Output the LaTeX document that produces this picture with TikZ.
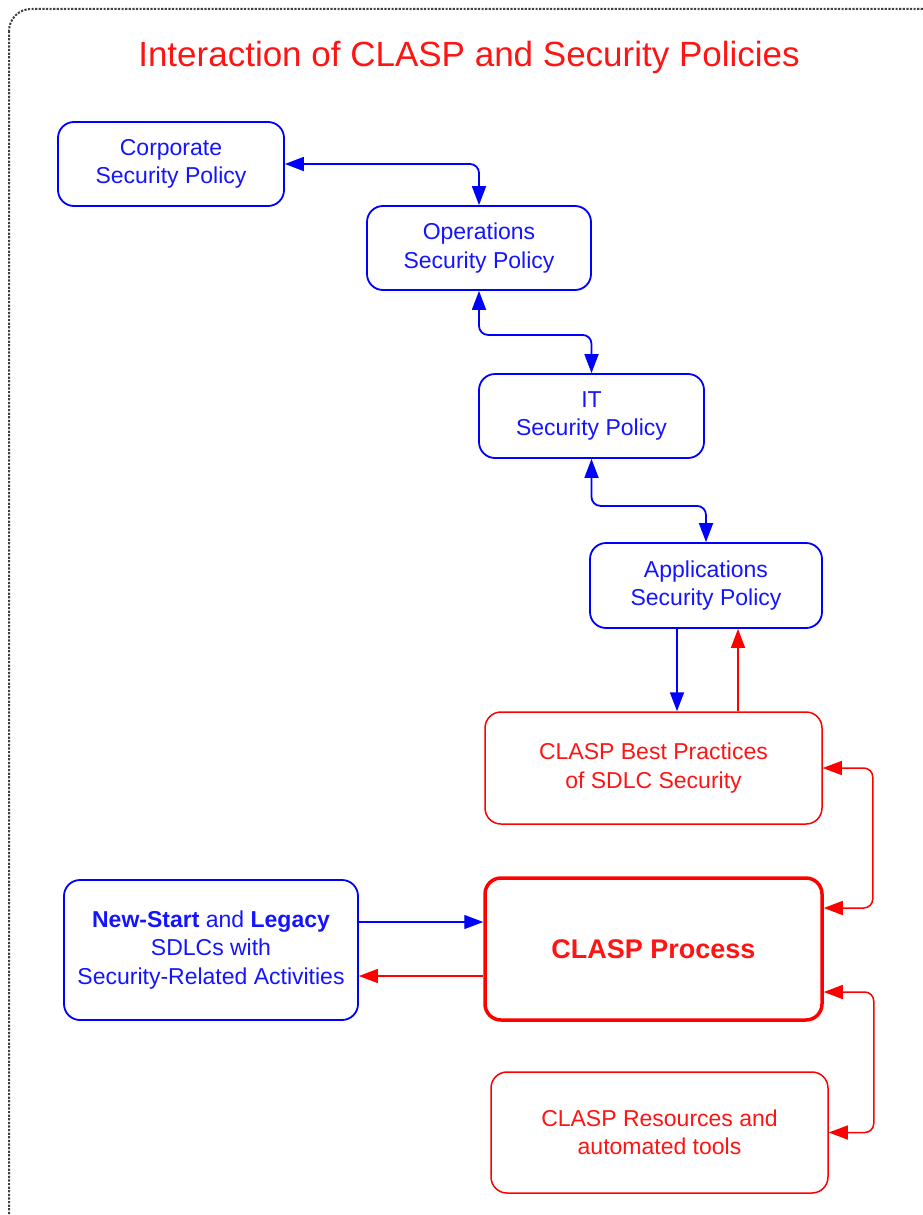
\documentclass[tikz,border=0pt]{standalone}
\usepackage{fontspec}
\setmainfont{Liberation Sans}
\usetikzlibrary{arrows.meta}
\definecolor{tblue}{RGB}{20,20,255}
\definecolor{tred}{RGB}{255,20,20}
\tikzset{
  ptip/.tip={Triangle[length=19pt,width=14pt]},
  bbox/.style={draw=blue, text=tblue, line width=1.8pt, rounded corners=16pt, align=center,
    inner sep=0pt, font=\fontsize{23}{28.5}\selectfont},
  rbox/.style={draw=red, text=tred, line width=1.5pt, rounded corners=16pt, align=center,
    inner sep=0pt, font=\fontsize{23}{28.5}\selectfont},
  bconn/.style={draw=blue, line width=1.8pt, rounded corners=9pt},
  rconn/.style={draw=red, line width=1.5pt, rounded corners=9pt},
}
\begin{document}
\begin{tikzpicture}[x=1pt,y=-1pt]
\useasboundingbox (0,0) rectangle (923,1215);
\clip (0,0) rectangle (923,1215);
\draw[draw=black!75, line width=2pt, dash pattern=on 2.2pt off 1.4pt, rounded corners=22pt]
  (9,9) rectangle (945,1240);
\node[text=tred, font=\fontsize{35}{40}\selectfont] (title) at (469,57) {Interaction of CLASP and Security Policies};

\node[bbox, minimum width=226pt, minimum height=84pt] (corp) at (171,164) {Corporate\\Security Policy};
\node[bbox, minimum width=224pt, minimum height=84pt] (ops) at (479,248) {Operations\\Security Policy};
\node[bbox, minimum width=225pt, minimum height=84pt] (it) at (591.5,416) {IT\\Security Policy};
\node[bbox, minimum width=232pt, minimum height=85pt] (app) at (706,585.5) {Applications\\Security Policy};
\node[rbox, minimum width=337pt, minimum height=112pt] (bp) at (653.5,768) {CLASP Best Practices\\of SDLC Security};
\node[rbox, line width=3.5pt, minimum width=337pt, minimum height=142pt, font=\fontsize{27}{32}\selectfont\bfseries] (proc) at (653.5,949) {CLASP Process};
\node[bbox, minimum width=294pt, minimum height=140pt] (new) at (211,950) {\textbf{New-Start} and \textbf{Legacy}\\SDLCs with\\Security-Related Activities};
\node[rbox, minimum width=337pt, minimum height=121pt] (res) at (659.5,1132.5) {CLASP Resources and\\automated tools};

% blue policy chain
\draw[bconn, {ptip}-{ptip}] (corp.east) -| (ops.north);
\draw[bconn, {ptip}-{ptip}] (ops.south) -- ++(0,44) -| (it.north);
\draw[bconn, {ptip}-{ptip}] (it.south) -- ++(0,47) -| (app.north);

% applications <-> best practices
\draw[bconn, -{ptip}] ([xshift=-29pt]app.south) -- ([xshift=23.5pt]bp.north);
\draw[rconn, -{ptip}] ([xshift=84.5pt]bp.north) -- ([xshift=32pt]app.south);

% right side loops
\draw[rconn, {ptip}-{ptip}] (bp.east) -- ++(50,0) |- ([yshift=41pt]proc.east);
\draw[rconn, {ptip}-{ptip}] ([yshift=-43pt]proc.east) -- ++(50,0) |- (res.east);

% new-start <-> process
\draw[bconn, line width=1.4pt, -{ptip}] ([yshift=28pt]new.east) -- ([yshift=27pt]proc.west);
\draw[rconn, -{ptip}] ([yshift=-27pt]proc.west) -- ([yshift=-26pt]new.east);
\end{tikzpicture}
\end{document}
